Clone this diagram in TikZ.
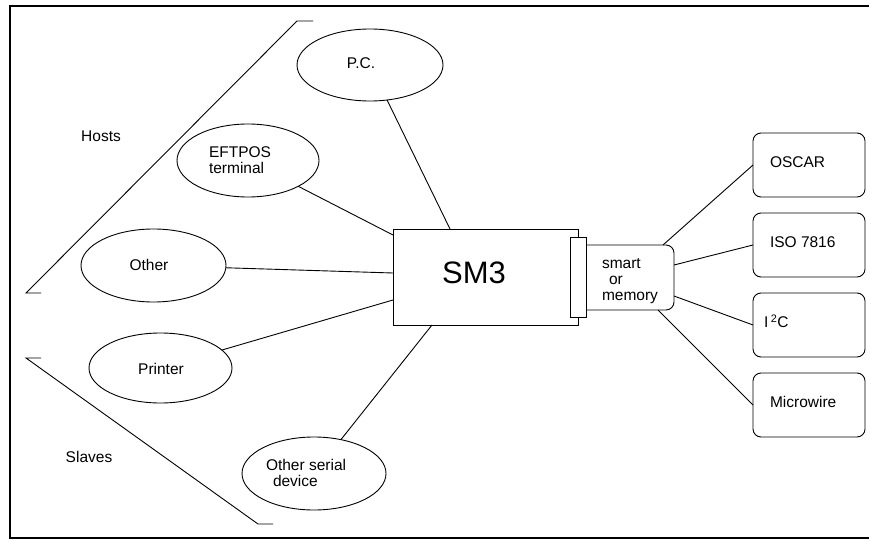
\documentclass[tikz,border=0pt]{standalone}
\usepackage{fontspec}
\setmainfont{Liberation Sans}
\usetikzlibrary{shapes.geometric}

\begin{document}
\begin{tikzpicture}[x=1pt,y=-1pt,
  every node/.style={inner sep=0pt, outer sep=0pt},
  lbl/.style={font=\fontsize{15.5}{16}\selectfont, align=left},
  unit/.style={ellipse, draw, line width=0.9pt},
  port/.style={draw, line width=0.9pt, rounded corners=8pt,
               minimum width=112pt, minimum height=64pt},
  wire/.style={line width=0.9pt},
  frame/.style={line width=2pt}]

\useasboundingbox (0,0) rectangle (869,540);

% outer frame (open on the right)
\draw[frame] (872,6.5) -- (10,6.5) -- (10,538) -- (872,538);

% group brackets
\draw[wire] (313,21) -- (297,21) -- (26,293) -- (41,293);
\draw[wire] (41,358) -- (26,358) -- (258,524) -- (273,524);
\node[lbl] (hosts)  at (101,136) {Hosts};
\node[lbl] (slaves) at (89,457)  {Slaves};

% peripheral units
\node[unit, minimum width=146pt, minimum height=72pt] (pc)  at (370,65)    {};
\node[unit, minimum width=142pt, minimum height=73pt] (eft) at (248,160.5) {};
\node[unit, minimum width=145pt, minimum height=73pt] (oth) at (153.5,265.5) {};
\node[unit, minimum width=143pt, minimum height=70pt] (prn) at (160.5,368) {};
\node[unit, minimum width=144pt, minimum height=73pt] (osd) at (314,473.5) {};

\node[lbl] (pct)  at (361,63)  {P.C.};
\node[lbl, anchor=west] (eftt) at (209,160) {EFTPOS\\terminal};
\node[lbl] (otht) at (149,265) {Other};
\node[lbl] (prnt) at (161,369) {Printer};
\node[lbl, anchor=west] (osdt) at (266,473) {Other serial\\\hspace*{7pt}device};

% central module
\node[draw, line width=0.9pt, minimum width=185pt, minimum height=96pt] (sm3) at (485.5,277) {};
\node[font=\fontsize{31}{31}\selectfont] (sm3t) at (474,273) {SM3};

% card and its connector strip
\node[draw, line width=0.9pt, rounded corners=8pt, minimum width=98pt, minimum height=65pt] (card) at (625,277.5) {};
\node[draw, fill=white, line width=0.9pt, minimum width=16pt, minimum height=80pt] (strip) at (578,277) {};
\node[lbl, anchor=west] (cardt) at (602,281) {smart\\\hspace*{7pt}or\\memory};

% card types
\node[port] (oscar) at (809,165) {};
\node[port] (iso)   at (809,245) {};
\node[port] (iic)   at (809,325) {};
\node[port] (mw)    at (809,405) {};
\node[lbl, anchor=west] (oscart) at (770,162) {OSCAR};
\node[lbl, anchor=west] (isot)   at (770,242) {ISO 7816};
\node[lbl, anchor=west] (iict)   at (764,321) {I\,\textsuperscript{2}C};
\node[lbl, anchor=west] (mwt)    at (770,402) {Microwire};

% connections to the module
\draw[wire] (pc)  -- ([xshift=57pt]sm3.north west);
\draw[wire] (eft) -- ([yshift=-6pt]sm3.north west);
\draw[wire] (oth) -- ([yshift=-44pt]sm3.north west);
\draw[wire] (prn) -- ([yshift=25pt]sm3.south west);
\draw[wire] (osd) -- ([xshift=39pt]sm3.south west);

% connections from the card
\draw[wire] ([xshift=-11pt]card.north east) -- (oscar.west);
\draw[wire] ([yshift=12.5pt]card.east)      -- (iso.west);
\draw[wire] ([yshift=-18.5pt]card.east)     -- (iic.west);
\draw[wire] ([xshift=-16pt]card.south east) -- (mw.west);
\end{tikzpicture}
\end{document}
